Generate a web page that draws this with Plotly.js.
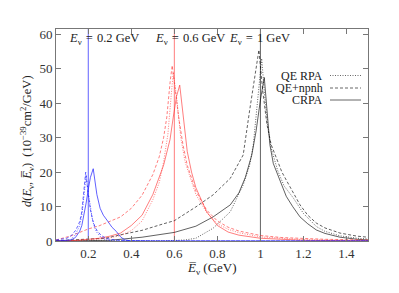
<!DOCTYPE html>
<html>
<head>
<meta charset="utf-8">
<script src="https://cdn.plot.ly/plotly-3.0.1.min.js"></script>
<style>html,body{margin:0;padding:0;background:#fff;}#chart{width:399px;height:293px;}</style>
</head>
<body>
<div id="chart"></div>
<script>
// Neutrino energies (GeV) of the three groups
const Ev = [0.2, 0.6, 1.0];
const groupColors = ['rgba(30,30,255,0.7)', 'rgba(255,40,40,0.6)', 'rgba(0,0,0,0.62)'];
const seriesNames = ['QE RPA', 'QE+npnh', 'CRPA'];

// E_nu = 0.2 GeV
const xB_rpa = [0.05,0.10,0.12,0.14,0.16,0.17,0.18,0.19,0.20,0.21,0.22,0.23,0.24,0.26,0.28,0.30,0.35,0.50,1.50];
const yB_rpa = [0,0.1,0.5,1.8,4.5,7.5,13,19,14,9.5,6,3.8,2.5,1,0.4,0.15,0,0,0];
const xB_npnh = [0.05,0.08,0.10,0.12,0.14,0.15,0.16,0.17,0.18,0.188,0.20,0.21,0.22,0.23,0.24,0.26,0.28,0.30,0.35,0.40,0.50,1.50];
const yB_npnh = [0.3,0.5,0.8,1.5,3,4.2,5.6,8.5,14.5,20,13.5,9,6.2,4.3,3.1,1.6,0.9,0.5,0.15,0.05,0,0];
const xB_crpa = [0.05,0.10,0.12,0.14,0.16,0.17,0.18,0.19,0.20,0.21,0.223,0.24,0.255,0.27,0.29,0.31,0.33,0.35,0.37,0.40,0.50,1.50];
const yB_crpa = [0,0.1,0.3,1.0,2.8,4.5,7.5,11,15,18.5,21,13.5,9.5,7.5,5.8,4,2.8,1.2,0.3,0.05,0,0];

// E_nu = 0.6 GeV
const xR_rpa = [0.05,0.20,0.30,0.35,0.40,0.45,0.50,0.53,0.55,0.57,0.585,0.595,0.61,0.63,0.65,0.70,0.75,0.80,0.85,0.90,1.00,1.10,1.20,1.50];
const yR_rpa = [0,0.3,0.9,1.6,3,5.8,12,17,23,31,42,49,42,30,23,13.5,8.3,5,3.4,2.4,1.2,0.7,0.4,0.15];
const xR_npnh = [0.05,0.08,0.12,0.16,0.20,0.25,0.30,0.35,0.40,0.45,0.50,0.53,0.55,0.565,0.58,0.59,0.60,0.62,0.64,0.66,0.70,0.75,0.80,0.85,0.90,1.00,1.10,1.20,1.30,1.50];
const yR_npnh = [0.3,0.8,1.5,2.5,3.5,4.4,5.6,7,9.5,13.3,19.3,24.5,30,36,46,51,46,36,28,22,14.5,9,5.8,4,2.9,1.6,1.0,0.7,0.5,0.3];
const xR_crpa = [0.05,0.15,0.25,0.30,0.35,0.40,0.45,0.50,0.55,0.58,0.595,0.61,0.625,0.64,0.66,0.68,0.70,0.75,0.80,0.85,0.90,1.00,1.10,1.20,1.50];
const yR_crpa = [0,0.2,0.8,1.4,2.3,4.5,7.5,13.5,22,29.5,36,42,45.3,37,26,20,15.5,8.5,4.5,2.6,1.7,0.8,0.4,0.2,0.05];

// E_nu = 1 GeV
const xK_rpa = [0.05,0.55,0.65,0.70,0.78,0.86,0.92,0.95,0.967,0.985,1.006,1.02,1.035,1.05,1.08,1.11,1.153,1.20,1.26,1.30,1.37,1.45,1.50];
const yK_rpa = [0,0,0.3,0.8,3.7,8.5,16.3,22,28,40,53,42,33,27,20.5,16,12.5,8,4.2,2.8,1.5,0.8,0.6];
const xK_npnh = [0.05,0.20,0.28,0.35,0.45,0.55,0.60,0.70,0.78,0.86,0.92,0.95,0.975,0.993,1.01,1.03,1.05,1.076,1.10,1.137,1.184,1.22,1.26,1.30,1.37,1.45,1.50];
const yK_npnh = [0.1,0.5,0.8,1.8,3.1,5,5.9,9.9,13.4,18.2,25,38,48.7,55.5,44,34,28,24,20,15.8,10.5,7.5,5.2,3.8,2.3,1.4,1.1];
const xK_crpa = [0.05,0.20,0.30,0.45,0.60,0.70,0.78,0.86,0.90,0.93,0.96,0.98,1.00,1.018,1.03,1.044,1.06,1.09,1.12,1.15,1.184,1.22,1.26,1.30,1.37,1.45,1.50];
const yK_crpa = [0,0.1,0.2,1.1,2.5,4.3,7,10.5,14,18.5,25,32,41,47.5,38,28,22.5,17.5,13,10,7,5,3.2,2.2,1.1,0.5,0.3];

const xTicks = [0.2,0.4,0.6,0.8,1.0,1.2,1.4];
const yTicks = [0,10,20,30,40,50,60];
const xRange = [0.05, 1.5];
const yRange = [0, 61.6];

const groups = [
  [[xB_rpa,yB_rpa],[xB_npnh,yB_npnh],[xB_crpa,yB_crpa]],
  [[xR_rpa,yR_rpa],[xR_npnh,yR_npnh],[xR_crpa,yR_crpa]],
  [[xK_rpa,yK_rpa],[xK_npnh,yK_npnh],[xK_crpa,yK_crpa]]
];
const dashes = ['1px,1.5px', '3px,2px', 'solid'];

const FONT = 'Liberation Serif, Times New Roman, serif';
const traces = [];
Ev.forEach((e, g) => {
  traces.push({x:[e,e], y:yRange, mode:'lines', showlegend:false, hoverinfo:'skip',
    line:{color:groupColors[g], width:1}});
});
[2,1,0].forEach(g => {
  groups[g].forEach((s, k) => {
    traces.push({x:s[0], y:s[1], mode:'lines', name:seriesNames[k], showlegend:false,
      line:{color:groupColors[g], width:1, dash:dashes[k]}});
  });
});

const L = 56, R = 368, T = 29, B = 241;
const px = v => (v - L) / (R - L);
const py = v => (B - v) / (B - T);

const annotations = [];
const labelLeft = [67, 153, 227];
const labelText = ['0.2', '0.6', '1'];
Ev.forEach((e, g) => {
  annotations.push({xref:'paper', yref:'paper', x:px(labelLeft[g]), y:py(39), xanchor:'left', yanchor:'middle',
    showarrow:false, text:'<i>E</i><sub>ν</sub>\u2004=\u2004' + labelText[g] + ' GeV', font:{family:FONT, size:12.5, color:'#222'}});
});
const legY = [75.5, 88, 100];
const shapes = [];
seriesNames.forEach((n, k) => {
  annotations.push({xref:'paper', yref:'paper', x:px(325), y:py(legY[k]), xanchor:'right', yanchor:'middle',
    showarrow:false, text:n, font:{family:FONT, size:12, color:'#222'}});
  shapes.push({type:'line', xref:'paper', yref:'paper', x0:px(330), x1:px(361), y0:py(legY[k]), y1:py(legY[k]),
    line:{color:'rgba(0,0,0,0.6)', width:1, dash:dashes[k]}});
});
annotations.push({xref:'paper', yref:'paper', x:px(27), y:py(141), xanchor:'center', yanchor:'middle', textangle:-90,
  showarrow:false, text:'<i>d</i>(<i>E</i><sub>ν</sub>, <i>E\u0305</i><sub>ν</sub>)\u2002(10<sup>−39</sup>cm<sup>2</sup>/GeV)',
  font:{family:FONT, size:12.5, color:'#222'}});
annotations.push({xref:'paper', yref:'paper', x:px(212), y:py(268), xanchor:'center', yanchor:'middle',
  showarrow:false, text:'<i>E\u0305</i><sub>ν</sub> (GeV)', font:{family:FONT, size:13, color:'#222'}});

const axisCommon = {showgrid:false, zeroline:false, showline:true, linecolor:'#777', linewidth:1,
  mirror:'ticks', ticks:'inside', ticklen:5, tickcolor:'#777', tickwidth:1,
  tickfont:{family:FONT, size:13, color:'#333'}};

const layout = {
  width:399, height:293,
  margin:{l:L, r:399-R, t:T, b:293-B},
  paper_bgcolor:'#fff', plot_bgcolor:'#fff',
  xaxis:Object.assign({}, axisCommon, {range:xRange, tickvals:xTicks, ticktext:xTicks.map(v=>String(v))}),
  yaxis:Object.assign({}, axisCommon, {range:yRange, tickvals:yTicks}),
  annotations:annotations, shapes:shapes, showlegend:false
};
Plotly.newPlot('chart', traces, layout, {staticPlot:true, displayModeBar:false});
</script>
</body>
</html>
